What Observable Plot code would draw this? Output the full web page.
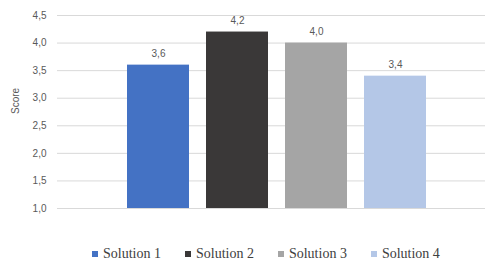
<!DOCTYPE html>
<html>
<head>
<meta charset="utf-8">
<script src="https://cdn.jsdelivr.net/npm/d3@7"></script>
<script src="https://cdn.jsdelivr.net/npm/@observablehq/plot@0.6"></script>
<style>
  html, body { margin: 0; padding: 0; background: #fff; }
  #chart { width: 485px; height: 262px; position: relative; overflow: hidden; }
  #legend { position: absolute; left: 92px; top: 246px; display: flex; align-items: center;
    font-family: "Liberation Serif", serif; font-size: 14px; color: #404040; white-space: nowrap; }
  .item { display: flex; align-items: center; margin-right: 24px; }
  .sw { width: 6px; height: 6px; margin-right: 5px; }
</style>
</head>
<body>
<div id="chart"></div>
<script>
const series = ["Solution 1", "Solution 2", "Solution 3", "Solution 4"];
const values = [3.6, 4.2, 4.0, 3.4];
const colors = ["#4472C4", "#3A3838", "#A5A5A5", "#B4C7E7"];
const yTicks = [1.0, 1.5, 2.0, 2.5, 3.0, 3.5, 4.0, 4.5];
const yMin = 1.0, yMax = 4.5;
const yLabel = "Score";

const data = series.map((s, i) => ({series: s, value: values[i]}));
const fmt = v => d3.format(".1f")(v).replace(".", ",");

const plot = Plot.plot({
  width: 485,
  height: 225,
  marginTop: 15,
  marginBottom: 17,
  marginLeft: 57,
  marginRight: 0,
  style: {fontFamily: "'Liberation Sans', sans-serif", fontSize: "10px", color: "#595959", background: "#fff"},
  x: {domain: series, range: [125.7, 426.5], paddingInner: 0.22, paddingOuter: 0, axis: null},
  y: {domain: [yMin, yMax], ticks: yTicks, tickFormat: fmt, label: null, tickSize: 0, tickPadding: 11},
  color: {domain: series, range: colors},
  marks: [
    Plot.gridY(yTicks, {stroke: "#d9d9d9", strokeOpacity: 1, strokeWidth: 1}),
    Plot.barY(data, {x: "series", y1: yMin, y2: "value", fill: "series"}),
    Plot.text(data, {x: "series", y: "value", text: d => fmt(d.value), dy: -11, fill: "#595959", fontSize: 10}),
    Plot.axisY({ticks: yTicks, tickFormat: fmt, tickSize: 0, tickPadding: 11, label: null, fill: "#595959"}),
    Plot.text([yLabel], {frameAnchor: "left", dx: -42, dy: 2, rotate: -90, fill: "#595959", fontSize: 10})
  ]
});
document.getElementById("chart").appendChild(plot);

const legend = document.createElement("div");
legend.id = "legend";
series.forEach((s, i) => {
  const it = document.createElement("div");
  it.className = "item";
  const sw = document.createElement("span");
  sw.className = "sw";
  sw.style.background = colors[i];
  const tx = document.createElement("span");
  tx.textContent = s;
  it.appendChild(sw); it.appendChild(tx);
  legend.appendChild(it);
});
document.getElementById("chart").appendChild(legend);
</script>
</body>
</html>
